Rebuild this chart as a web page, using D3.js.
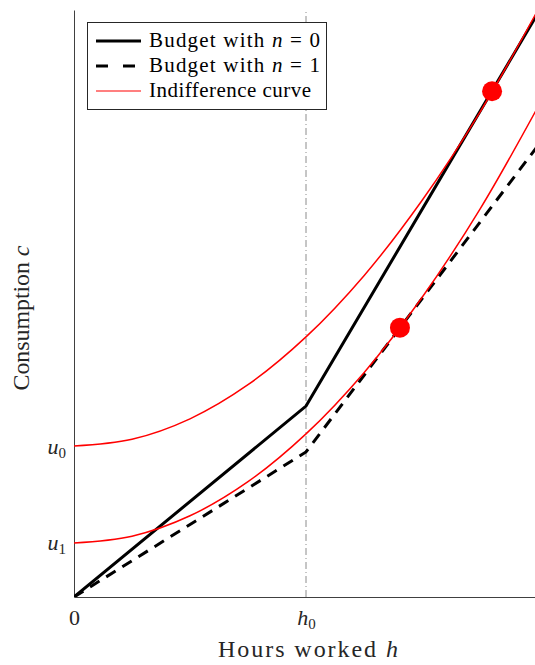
<!DOCTYPE html>
<html><head><meta charset="utf-8">
<script src="https://cdn.jsdelivr.net/npm/d3@7"></script>
<style>body{margin:0;background:#fff}svg{display:block}</style>
</head><body><svg id="c" width="535" height="665"></svg>
<script>
// ---- data ----
const hGrid = [0, 0.25, 0.5, 0.75, 1.0, 1.25, 1.5, 1.75, 2.0];
const indiffU0 = [0.651, 0.680, 0.768, 0.915, 1.121, 1.385, 1.709, 2.090, 2.531];
const indiffU1 = [0.233, 0.262, 0.350, 0.497, 0.703, 0.967, 1.291, 1.672, 2.113];
const budgetH = [0, 1, 2];
const budgetN0 = [0, 0.823, 2.517];
const budgetN1 = [0, 0.625, 1.946];
const optimaH = [1.802, 1.405];
const optimaC = [2.180, 1.161];
const h0 = 1;
const xTicks = [0, h0];
const xTickLabels = [["0", ""], ["h", "0"]];
const yTicks = [0.233, 0.651];
const yTickLabels = [["u", "1"], ["u", "0"]];
const legendItems = ["Budget with |n| = 0", "Budget with |n| = 1", "Indifference curve"];

const svg = d3.select("#c");
const FONT = "'Liberation Serif', serif";
const x = d3.scaleLinear().domain([0, 2]).range([74, 538]);
const y = d3.scaleLinear().domain([0, 2.53]).range([597, 10]);

svg.append("defs").append("clipPath").attr("id", "clip")
  .append("rect").attr("x", 74).attr("y", 10).attr("width", 464).attr("height", 587);

// axes
const gx = svg.append("g").attr("transform", "translate(0,597)")
  .call(d3.axisBottom(x).tickValues(xTicks).tickSize(0).tickPadding(12).tickFormat(""));
gx.select(".domain").attr("stroke", "#404040");
gx.selectAll(".tick text").each(function(d, i) {
  const t = d3.select(this).attr("font-family", FONT).attr("font-size", 22).attr("fill", "#262626");
  t.append("tspan").attr("font-style", i ? "italic" : "normal").text(xTickLabels[i][0]);
  if (xTickLabels[i][1]) t.append("tspan").attr("font-size", 15).attr("dy", 4).text(xTickLabels[i][1]);
});
const gy = svg.append("g").attr("transform", "translate(74,0)")
  .call(d3.axisLeft(y).tickValues(yTicks).tickSize(0).tickPadding(8).tickFormat(""));
gy.select(".domain").attr("stroke", "#404040");
gy.selectAll(".tick text").each(function(d, i) {
  const t = d3.select(this).attr("font-family", FONT).attr("font-size", 22).attr("fill", "#262626");
  t.append("tspan").attr("font-style", "italic").text(yTickLabels[i][0]);
  t.append("tspan").attr("font-size", 15).attr("dy", 4).text(yTickLabels[i][1]);
});

// axis titles
const xl = svg.append("text").attr("x", 308).attr("y", 657).attr("text-anchor", "middle")
  .attr("font-family", FONT).attr("font-size", 24).attr("fill", "#262626")
  .attr("textLength", 180).attr("lengthAdjust", "spacing");
xl.append("tspan").text("Hours worked ");
xl.append("tspan").attr("font-style", "italic").text("h");
const yl = svg.append("text").attr("transform", "translate(29,318) rotate(-90)").attr("text-anchor", "middle")
  .attr("font-family", FONT).attr("font-size", 24).attr("fill", "#262626")
  .attr("textLength", 145).attr("lengthAdjust", "spacing");
yl.append("tspan").text("Consumption ");
yl.append("tspan").attr("font-style", "italic").text("c");

// plot
const plot = svg.append("g").attr("clip-path", "url(#clip)");
plot.append("line").attr("x1", x(h0)).attr("x2", x(h0)).attr("y1", y(0)).attr("y2", 10)
  .attr("stroke", "#8c8c8c").attr("stroke-width", 1).attr("stroke-dasharray", "7,3,1,3");

const lineB = d3.line().x((d, i) => x(budgetH[i])).y(d => y(d));
plot.append("path").attr("d", lineB(budgetN0)).attr("fill", "none").attr("stroke", "#000").attr("stroke-width", 3);
plot.append("path").attr("d", lineB(budgetN1)).attr("fill", "none").attr("stroke", "#000").attr("stroke-width", 3)
  .attr("stroke-dasharray", "11,8");

const lineI = d3.line().x((d, i) => x(hGrid[i])).y(d => y(d)).curve(d3.curveCatmullRom);
[indiffU0, indiffU1].forEach(s => plot.append("path").attr("d", lineI(s)).attr("fill", "none")
  .attr("stroke", "#ff0000").attr("stroke-width", 1.5));

plot.selectAll("circle.opt").data(optimaH).enter().append("circle")
  .attr("cx", d => x(d)).attr("cy", (d, i) => y(optimaC[i])).attr("r", 10).attr("fill", "#ff0000");

// legend
const lg = svg.append("g");
lg.append("rect").attr("x", 87.5).attr("y", 22.5).attr("width", 239).attr("height", 87)
  .attr("fill", "#fff").attr("stroke", "#262626").attr("stroke-width", 1);
const rowsY = [41, 66, 91];
const legendLens = [171, 171, 162];
legendItems.forEach((txt, i) => {
  const ln = lg.append("line").attr("x1", 96).attr("x2", 141).attr("y1", rowsY[i]).attr("y2", rowsY[i]);
  if (i === 0) ln.attr("stroke", "#000").attr("stroke-width", 3);
  else if (i === 1) ln.attr("stroke", "#000").attr("stroke-width", 3).attr("stroke-dasharray", "12,15");
  else ln.attr("stroke", "#ff0000").attr("stroke-width", 1.2);
  const t = lg.append("text").attr("x", 149).attr("y", rowsY[i] + 6)
    .attr("font-family", FONT).attr("font-size", 21).attr("fill", "#000")
    .attr("textLength", legendLens[i]).attr("lengthAdjust", "spacing");
  txt.split("|").forEach((p, j) => t.append("tspan").attr("font-style", j === 1 ? "italic" : "normal").text(p));
});
</script></body></html>
